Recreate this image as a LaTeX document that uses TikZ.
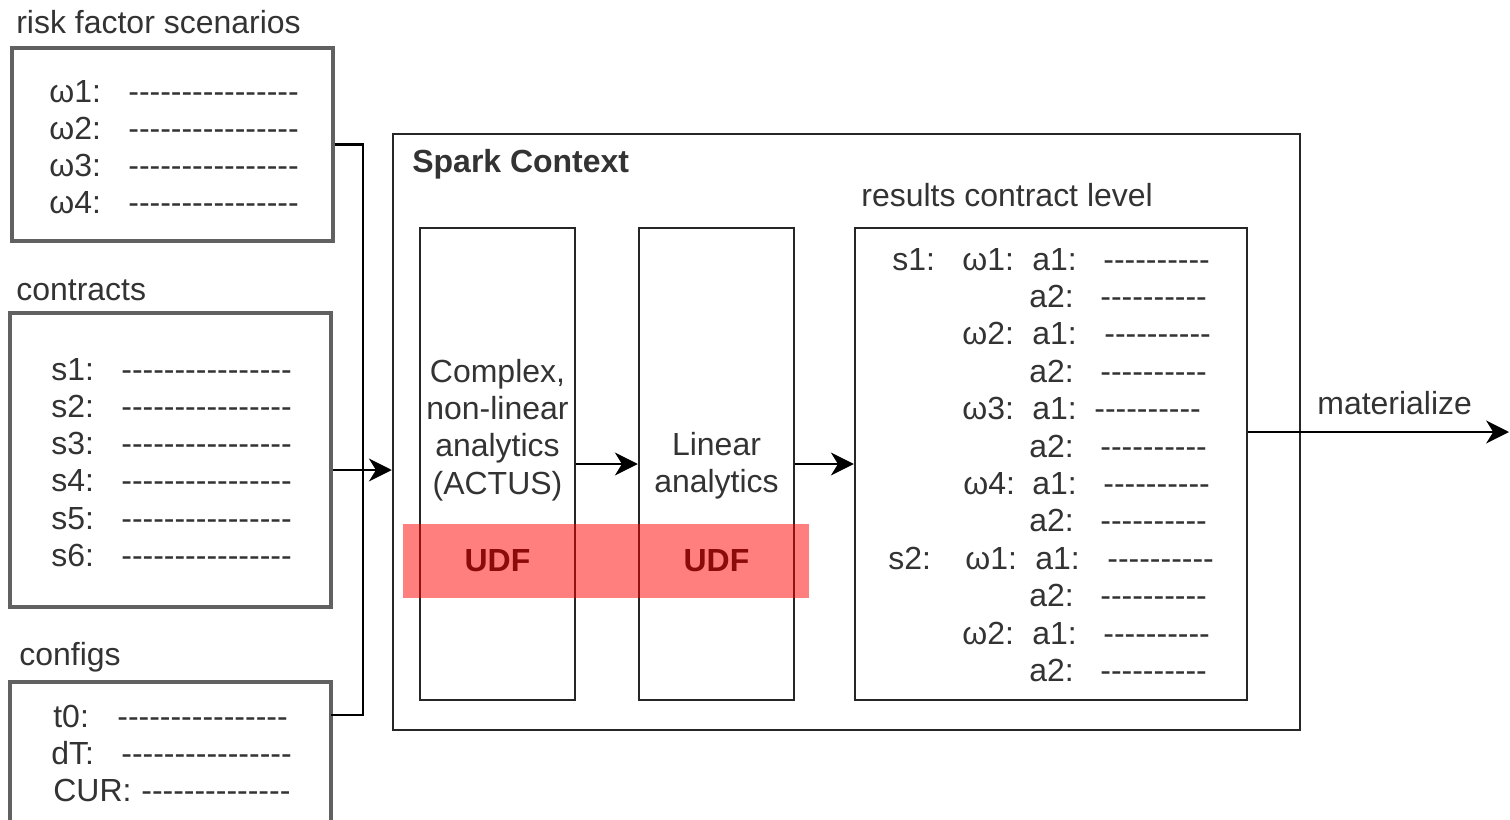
\documentclass[tikz,border=0pt]{standalone}
\usepackage{fontspec}
\setmainfont{Liberation Sans}[Ligatures=TeXOff]
\usetikzlibrary{arrows.meta,fit}

\definecolor{udfred}{RGB}{140,10,10}
\newcommand{\diagfont}{\fontsize{18.2}{21.2}\selectfont}

\tikzset{
  lbl/.style={anchor=base west, inner sep=0pt, text=black!80},
  ctext/.style={align=center, inner sep=0pt, text=black!80},
  inbox/.style={draw=black!62, line width=1.9pt, inner sep=0pt},
  procbox/.style={draw=black!85, line width=1.4pt, inner sep=0pt},
  conn/.style={line width=1.2pt},
  arr/.style={conn, -{Stealth[length=13pt,width=13pt,inset=4pt]}},
}

\begin{document}
\begin{tikzpicture}[x=0.02cm, y=-0.02cm, font=\diagfont]
\useasboundingbox (0,0) rectangle (1510,819);
\clip (0,0) rectangle (1510,819);

% input tables
\node[inbox, fit={(12,48) (333,241)}] (scen) {};
\node[lbl] (scen-t) at (16,33) {risk factor scenarios};
\foreach \i in {1,...,4} {
  \node[lbl] (w\i) at (49, {102+37.3*(\i-1)}) {ω\i:};
  \node[lbl] (wd\i) at (128, {102+37.3*(\i-1)}) {----------------};
}

\node[inbox, fit={(10,313) (331,607)}] (cntr) {};
\node[lbl] (cntr-t) at (16,300) {contracts};
\foreach \i in {1,...,6} {
  \node[lbl] (s\i) at (51, {380+37.3*(\i-1)}) {s\i:};
  \node[lbl] (sd\i) at (121, {380+37.3*(\i-1)}) {----------------};
}

\node[inbox, fit={(10,682) (331,840)}] (cfg) {};
\node[lbl] (cfg-t) at (19,665) {configs};
\node[lbl] (t0) at (53,727) {t0:};
\node[lbl] (t0d) at (117,727) {----------------};
\node[lbl] (dT) at (51,764) {dT:};
\node[lbl] (dTd) at (121,764) {----------------};
\node[lbl] (cur) at (53,801) {CUR:};
\node[lbl] (curd) at (141,801) {--------------};

% spark context
\node[procbox, fit={(393,134) (1300,730)}] (spark) {};
\node[lbl, font=\diagfont\bfseries] (spark-t) at (412,172) {Spark Context};

\node[procbox, fit={(420,228) (575,700)}] (cplx) {};
\node[ctext] (cplx-t) at (497.5,430) {Complex,\\non-linear\\analytics\\(ACTUS)};
\node[procbox, fit={(639,228) (794,700)}] (lin) {};
\node[ctext] (lin-t) at (716.5,466) {Linear\\analytics};

\node[procbox, fit={(855,228) (1247,700)}] (res) {};
\node[lbl] (res-t) at (861,206) {results contract level};
\node[lbl] (rs1) at (892,270) {s1:};
\node[lbl] (rs2) at (888,569) {s2:};
\foreach \k/\w/\x in {0/1/962, 2/2/962, 4/3/962, 6/4/963, 8/1/965, 10/2/962}
  \node[lbl] (rw\k) at (\x, {270+37.4*\k}) {ω\w:};
\foreach \k/\a/\ax/\dx in {0/a1/1032/1103, 1/a2/1029/1100, 2/a1/1032/1104,
    3/a2/1029/1100, 4/a1/1032/1094, 5/a2/1029/1100, 6/a1/1032/1103,
    7/a2/1029/1100, 8/a1/1035/1107, 9/a2/1029/1100, 10/a1/1032/1103,
    11/a2/1029/1100} {
  \node[lbl] (ra\k) at (\ax, {270+37.4*\k}) {\a:};
  \node[lbl] (rd\k) at (\dx, {270+37.4*\k}) {----------};
}

% UDF band
\node[fill=red, fill opacity=0.5, inner sep=0pt, fit={(403,524) (809,598)}] (udf) {};
\node[font=\diagfont\bfseries, text=udfred] (udf-a) at (cplx.center |- udf.center) {UDF};
\node[font=\diagfont\bfseries, text=udfred] (udf-b) at (lin.center |- udf.center) {UDF};

% connectors
\coordinate (join) at (363,470);
\coordinate (cfg-out) at (331,715);
\draw[conn] (scen.east) -| (join);
\draw[conn] (cfg-out) -| (join);
\draw[arr] (cntr.east |- join) -- (spark.west |- join);
\draw[arr] (cplx) -- (lin);
\draw[arr] (lin) -- (res);
\coordinate (mat-end) at (1509,432);
\draw[arr] (res.east |- spark.center) -- (mat-end);
\node[lbl] (mat-t) at (1317,414) {materialize};
\end{tikzpicture}
\end{document}
